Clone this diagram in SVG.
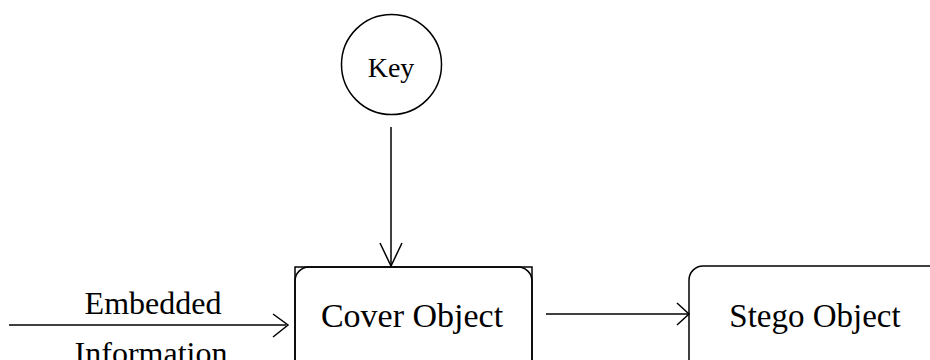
<svg xmlns="http://www.w3.org/2000/svg" width="930" height="360" viewBox="0 0 930 360">
<style>
.s{fill:none;stroke:#000;stroke-width:1.5}
.t{font-family:"Liberation Serif","Times New Roman",serif;fill:#000;text-anchor:middle}
</style>
<rect width="930" height="360" fill="#fff"/>
<g id="connectors" class="s">
<line x1="391" y1="127" x2="391" y2="266"/>
<polyline points="380,243 391,266 402,243"/>
<line x1="9" y1="325" x2="286" y2="325"/>
<polyline points="273,314 288,325 273,337"/>
<line x1="546" y1="314" x2="688" y2="314"/>
<polyline points="677,303 689,314 677,325"/>
</g>
<g id="key">
<circle class="s" cx="391.5" cy="64.5" r="50"/>
<text class="t" x="391" y="77" font-size="28">Key</text>
</g>
<g id="cover">
<rect class="s" x="295" y="267" width="237" height="110"/>
<rect class="s" x="295" y="267" width="237" height="110" rx="14"/>
<text class="t" x="412" y="327" font-size="34">Cover Object</text>
</g>
<g id="stego">
<rect class="s" x="689" y="266" width="260" height="110" rx="14"/>
<text class="t" x="815" y="327" font-size="33">Stego Object</text>
</g>
<g id="embedded-label">
<text class="t" x="153" y="314" font-size="32">Embedded</text>
<text class="t" x="151" y="364" font-size="32">Information</text>
</g>
</svg>
